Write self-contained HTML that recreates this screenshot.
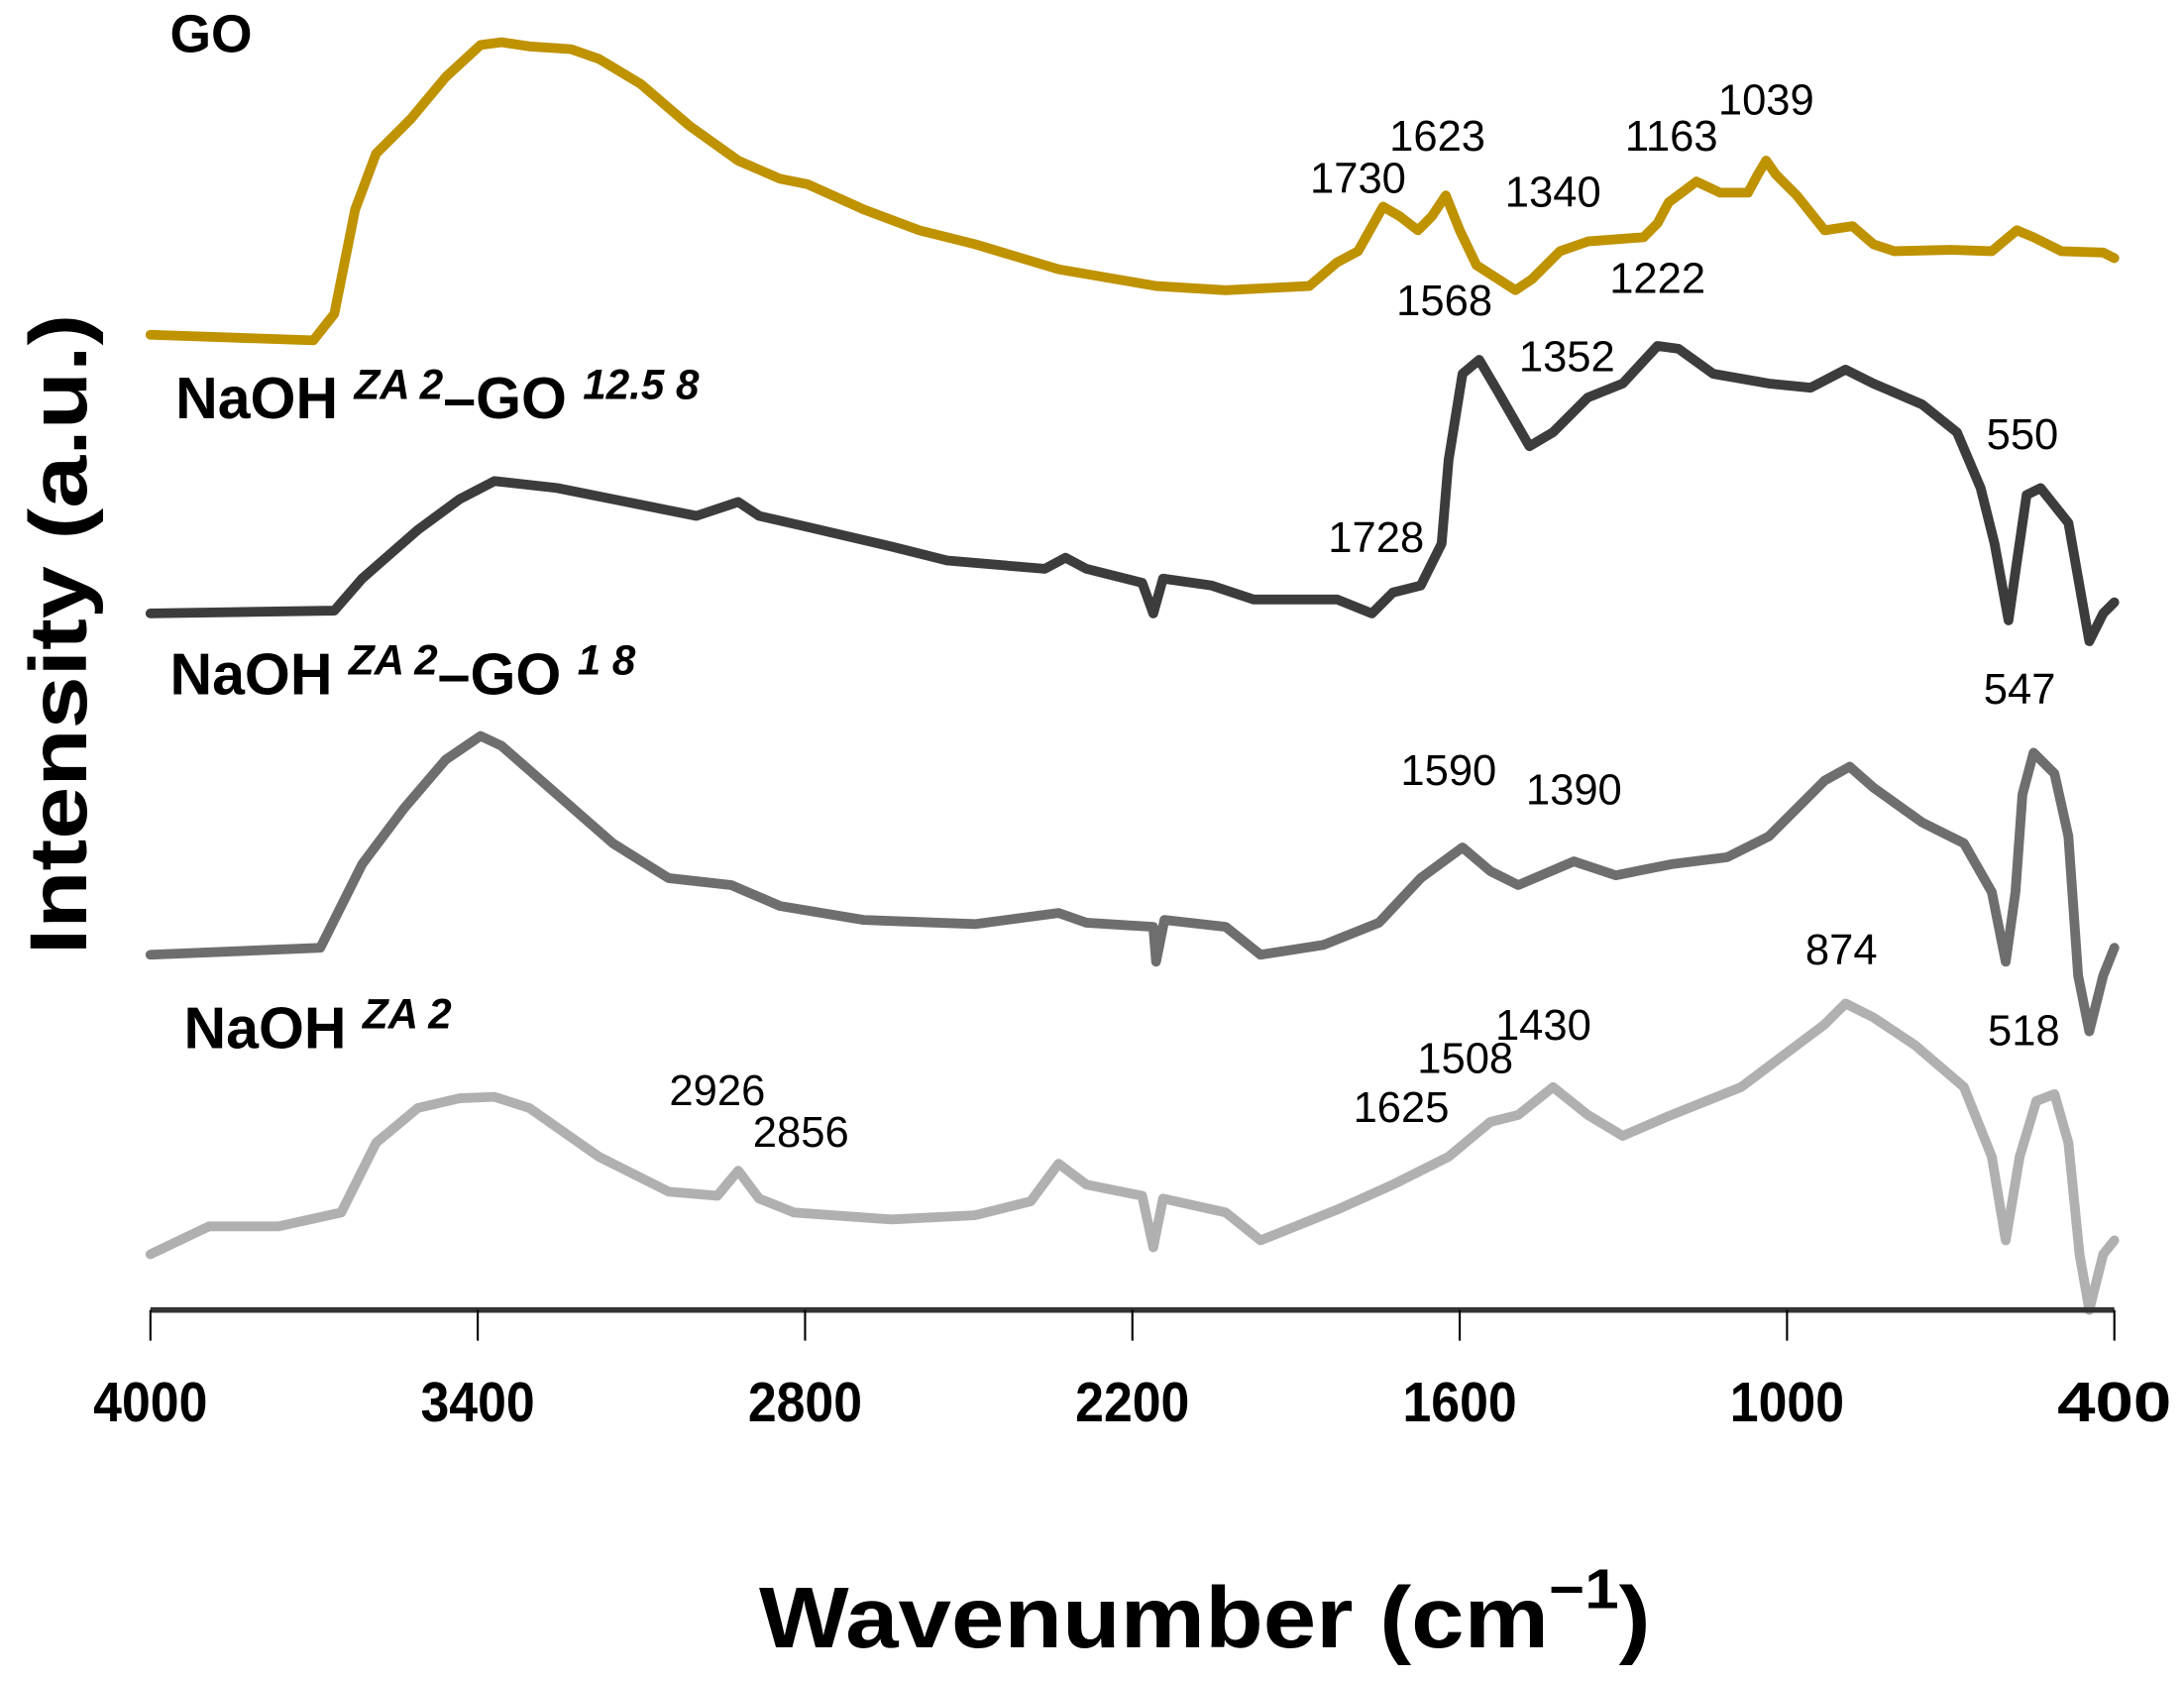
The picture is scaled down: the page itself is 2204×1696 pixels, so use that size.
<!DOCTYPE html>
<html><head><meta charset="utf-8"><style>
html,body{margin:0;padding:0;background:#fff;}
svg{display:block;}
text{font-family:"Liberation Sans",sans-serif;}
</style></head><body>
<svg width="2204" height="1696" viewBox="0 0 1568 1206" xmlns="http://www.w3.org/2000/svg">
<rect width="1568" height="1206" fill="#fff"/>
<g fill="none" stroke-linejoin="round" stroke-linecap="round" stroke-width="7">
<polyline stroke="#bf9200" points="108,240 225,244 240,225 255,150 270,110 295,85 320,55 345,32 360,30 380,33 410,35 430,42 460,60 495,90 530,115 560,128 580,132 620,150 660,165 700,175 760,193 830,205 880,208 940,205 960,188 975,180 993,148 1005,155 1018,165 1028,155 1038,140 1048,165 1060,190 1088,208 1100,200 1120,180 1140,173 1180,170 1190,160 1198,145 1218,130 1235,138 1255,138 1262,125 1268,115 1275,125 1290,140 1310,165 1330,162 1345,175 1360,180 1400,179 1430,180 1448,165 1460,170 1480,180 1510,181 1518,185"/>
<polyline stroke="#3c3c3c" points="108,440 240,438 260,415 300,380 330,358 355,345 400,350 460,362 500,370 530,360 545,370 580,378 640,392 680,402 750,408 765,400 780,408 820,418 828,440 835,415 870,420 900,430 960,430 985,440 1000,425 1020,420 1035,390 1040,330 1050,268 1062,258 1075,280 1098,320 1115,310 1140,285 1165,275 1190,248 1205,250 1230,268 1270,275 1300,278 1325,265 1345,275 1380,290 1405,310 1422,350 1432,390 1442,445 1447,410 1455,355 1465,350 1485,375 1500,460 1510,440 1518,432"/>
<polyline stroke="#6e6e6e" points="108,685 230,680 260,620 290,580 320,545 345,528 360,535 400,570 440,605 480,630 525,635 560,650 620,660 700,663 760,655 780,662 828,665 830,690 836,660 880,665 905,685 950,678 990,662 1020,630 1050,608 1070,625 1090,635 1130,618 1160,628 1200,620 1240,615 1270,600 1310,560 1328,550 1345,565 1380,590 1410,605 1430,640 1440,690 1447,640 1452,570 1460,540 1475,555 1485,600 1492,700 1500,740 1510,700 1518,680"/>
<polyline stroke="#b0b0b0" points="108,900 150,880 200,880 245,870 270,820 300,795 330,788 355,787 380,795 430,830 480,855 515,858 530,840 545,860 570,870 640,875 700,872 740,862 760,835 780,850 820,858 828,895 835,860 880,870 905,890 960,868 1000,850 1040,830 1070,805 1090,800 1115,780 1140,800 1165,815 1200,800 1250,780 1290,750 1310,735 1325,720 1345,730 1375,750 1410,780 1430,830 1440,890 1450,830 1462,790 1475,785 1485,820 1493,900 1500,940 1510,900 1518,890"/>
</g>
<line x1="108" y1="940" x2="1518" y2="940" stroke="#333" stroke-width="4"/>
<g stroke="#000" stroke-width="1.5">
<line x1="108" y1="940" x2="108" y2="962"/><line x1="343" y1="940" x2="343" y2="962"/><line x1="578" y1="940" x2="578" y2="962"/><line x1="813" y1="940" x2="813" y2="962"/><line x1="1048" y1="940" x2="1048" y2="962"/><line x1="1283" y1="940" x2="1283" y2="962"/><line x1="1518" y1="940" x2="1518" y2="962"/>
</g>
<g font-size="40" font-weight="bold" text-anchor="middle">
<text x="108" y="1020" textLength="82" lengthAdjust="spacingAndGlyphs">4000</text>
<text x="343" y="1020" textLength="82" lengthAdjust="spacingAndGlyphs">3400</text>
<text x="578" y="1020" textLength="82" lengthAdjust="spacingAndGlyphs">2800</text>
<text x="813" y="1020" textLength="82" lengthAdjust="spacingAndGlyphs">2200</text>
<text x="1048" y="1020" textLength="82" lengthAdjust="spacingAndGlyphs">1600</text>
<text x="1283" y="1020" textLength="82" lengthAdjust="spacingAndGlyphs">1000</text>
<text x="1518" y="1020" textLength="82" lengthAdjust="spacingAndGlyphs">400</text>
</g>
<text x="545" y="1182" font-size="62" font-weight="bold" textLength="640" lengthAdjust="spacingAndGlyphs">Wavenumber (cm<tspan dy="-28" font-size="40">−1</tspan><tspan dy="28">)</tspan></text>
<text transform="translate(62,455) rotate(-90)" font-size="58" font-weight="bold" text-anchor="middle" textLength="460" lengthAdjust="spacingAndGlyphs">Intensity (a.u.)</text>
<g font-weight="bold">
<text x="122" y="37" font-size="38">GO</text>
<text x="126" y="300" font-size="42">NaOH <tspan font-size="30" font-style="italic" dy="-14">ZA 2</tspan><tspan dy="14">–GO </tspan><tspan font-size="30" font-style="italic" dy="-14">12.5 8</tspan></text>
<text x="122" y="498" font-size="42">NaOH <tspan font-size="30" font-style="italic" dy="-14">ZA 2</tspan><tspan dy="14">–GO </tspan><tspan font-size="30" font-style="italic" dy="-14">1 8</tspan></text>
<text x="132" y="752" font-size="42">NaOH <tspan font-size="30" font-style="italic" dy="-14">ZA 2</tspan></text>
</g>
<g font-size="31" text-anchor="middle">
<text x="975" y="138">1730</text><text x="1032" y="108">1623</text><text x="1115" y="148">1340</text>
<text x="1200" y="108">1163</text><text x="1268" y="82">1039</text><text x="1037" y="226">1568</text>
<text x="1190" y="210">1222</text><text x="1125" y="266">1352</text><text x="1452" y="322">550</text>
<text x="988" y="396">1728</text><text x="1450" y="505">547</text><text x="1040" y="563">1590</text>
<text x="1130" y="577">1390</text><text x="1322" y="692">874</text><text x="1453" y="750">518</text>
<text x="1108" y="746">1430</text><text x="1052" y="770">1508</text><text x="1006" y="805">1625</text>
<text x="515" y="793">2926</text><text x="575" y="823">2856</text>
</g>
</svg>
</body></html>
